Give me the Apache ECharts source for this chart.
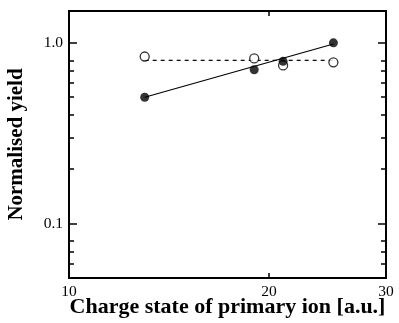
<!DOCTYPE html>
<html><head><meta charset="utf-8">
<script src="https://cdn.jsdelivr.net/npm/echarts@6/dist/echarts.min.js"></script>
<style>html,body{margin:0;padding:0;background:#fff}#c{width:399px;height:323px}</style>
</head><body><div id="c"></div>
<script>
const chargeState = [13, 19, 21, 25];
const filledYield = [0.50, 0.71, 0.79, 1.00];
const openYield = [0.84, 0.82, 0.75, 0.78];
const fitFilledX = [13, 25];
const fitFilledY = [0.50, 0.985];
const fitOpenX = [13, 25];
const fitOpenY = [0.80, 0.80];
const xTicks = [10, 20, 30];
const yMajorTicks = [0.1, 1];
const yMinorTicks = [0.06, 0.07, 0.08, 0.2, 0.3, 0.4, 0.5, 0.6, 0.7, 0.8];
const xTitle = 'Charge state of primary ion [a.u.]';
const yTitle = 'Normalised yield';

const font = 'Liberation Serif';
const pair = (xs, ys) => xs.map((x, i) => [x, ys[i]]);

function yAx(pos, ticks, len, labels, name) {
  return {
    type: 'log', min: 0.05, max: 1.5, position: pos,
    name: name || '', nameLocation: 'middle', nameGap: 42, nameRotate: 90, nameMoveOverlap: false,
    nameTextStyle: {fontFamily: font, fontWeight: 'bold', fontSize: 21, color: '#000'},
    axisLine: {show: true, lineStyle: {color: '#000', width: 2}},
    axisTick: {show: true, inside: true, length: len, customValues: ticks, lineStyle: {color: '#000', width: 1.5}},
    axisLabel: labels ? {show: true, customValues: yMajorTicks, margin: 6, fontFamily: font, fontSize: 15.5, color: '#000',
      formatter: v => (Math.abs(v - 1) < 1e-9 ? '1.0' : String(v))} : {show: false},
    splitLine: {show: false}, minorTick: {show: false}
  };
}

const chart = echarts.init(document.getElementById('c'));
chart.setOption({
  animation: false,
  backgroundColor: '#fff',
  grid: {left: 69, right: 13, top: 11, bottom: 45, outerBoundsMode: 'none', containLabel: false},
  xAxis: [{
    type: 'log', min: 10, max: 30, position: 'bottom',
    name: xTitle, nameLocation: 'middle', nameGap: 18, nameMoveOverlap: false,
    nameTextStyle: {fontFamily: font, fontWeight: 'bold', fontSize: 22, color: '#000'},
    axisLine: {show: true, lineStyle: {color: '#000', width: 2}},
    axisTick: {show: true, inside: true, length: 5, customValues: xTicks, lineStyle: {color: '#000', width: 1.5}},
    axisLabel: {show: true, customValues: xTicks, margin: 6, fontFamily: font, fontSize: 15.5, color: '#000'},
    splitLine: {show: false}
  }, {
    type: 'log', min: 10, max: 30, position: 'top',
    axisLine: {show: true, lineStyle: {color: '#000', width: 2}},
    axisTick: {show: true, inside: true, length: 5, customValues: xTicks, lineStyle: {color: '#000', width: 1.5}},
    axisLabel: {show: false}, splitLine: {show: false}
  }],
  yAxis: [
    yAx('left', yMajorTicks, 8, true, yTitle),
    yAx('left', yMinorTicks, 5, false),
    yAx('right', yMajorTicks, 8, false),
    yAx('right', yMinorTicks, 5, false)
  ],
  series: [
    {type: 'line', data: pair(fitFilledX, fitFilledY), symbol: 'none', lineStyle: {color: '#000', width: 1.2}, z: 2},
    {type: 'line', data: pair(fitOpenX, fitOpenY), symbol: 'none', lineStyle: {color: '#000', width: 1.2, type: [4, 4]}, z: 2},
    {type: 'scatter', data: pair(chargeState, openYield), symbol: 'circle', symbolSize: 9,
      itemStyle: {color: '#fff', borderColor: '#000', borderWidth: 1.3}, z: 3},
    {type: 'scatter', data: pair(chargeState, filledYield), symbol: 'circle', symbolSize: 9,
      itemStyle: {color: '#000'}, z: 4}
  ]
});
</script></body></html>
